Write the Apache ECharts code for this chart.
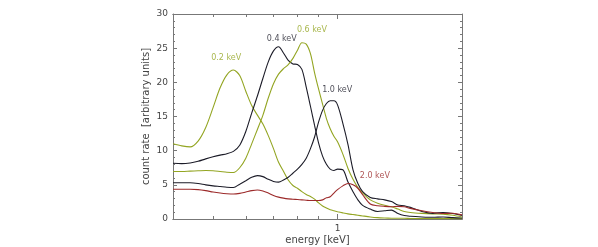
<!DOCTYPE html>
<html><head><meta charset="utf-8">
<script src="https://cdn.jsdelivr.net/npm/echarts@6/dist/echarts.min.js"></script>
<style>html,body{margin:0;padding:0;background:#fff}#c{width:598px;height:247px}</style>
</head><body><div id="c"></div>
<script>
// energy grid [keV]
const energies = [0.40,0.42,0.44,0.46,0.48,0.50,0.52,0.54,0.56,0.58,0.60,0.62,0.64,0.66,0.68,0.70,0.72,0.74,0.76,0.78,0.80,0.82,0.84,0.86,0.88,0.90,0.92,0.94,0.96,0.98,1.00,1.03,1.06,1.09,1.12,1.15,1.20,1.25,1.30,1.35,1.40,1.45,1.50,1.60,1.70,1.80,1.90,2.00];
// count rate for each incident photon energy
const counts02 = [11.0,10.7,10.55,11.4,13.4,16.3,19.2,21.1,21.8,21.0,18.7,16.6,15.2,13.9,12.2,10.3,8.3,7.0,5.7,4.9,4.5,4.0,3.6,3.3,2.9,2.35,1.9,1.6,1.35,1.2,1.07,0.9,0.75,0.65,0.55,0.45,0.3,0.2,0.15,0.12,0.1,0.1,0.08,0.07,0.06,0.05,0.05,0.05];
const counts04 = [8.15,8.1,8.2,8.45,8.8,9.1,9.35,9.55,9.9,10.8,12.8,15.5,18.0,20.6,23.0,24.6,25.2,24.3,23.2,22.7,22.6,21.9,19.3,16.5,13.7,11.1,9.2,8.0,7.3,7.1,7.3,7.2,5.4,4.0,2.8,2.0,1.45,1.1,1.2,1.3,0.8,0.5,0.4,0.3,0.25,0.3,0.2,0.15];
const counts06 = [6.95,6.95,7.0,7.05,7.1,7.05,6.95,6.85,6.8,7.5,8.9,11.0,13.1,15.2,17.7,19.8,21.2,22.0,22.6,23.5,24.7,25.8,25.6,24.2,21.4,19.0,16.8,14.7,13.2,12.1,11.3,9.5,7.4,5.8,4.6,3.8,2.8,2.3,2.0,1.8,1.45,1.1,0.95,0.82,0.75,0.72,0.55,0.3];
const counts10 = [5.3,5.3,5.3,5.2,5.0,4.85,4.75,4.65,4.6,5.1,5.6,6.1,6.35,6.2,5.8,5.5,5.4,5.7,6.1,6.7,7.3,8.0,8.9,10.3,12.0,14.2,15.9,16.9,17.3,17.3,16.7,14.0,10.9,7.2,5.2,4.0,3.15,2.95,2.8,2.55,2.05,1.95,1.7,1.1,0.83,0.95,0.8,0.5];
const counts20 = [4.35,4.35,4.35,4.3,4.15,3.95,3.8,3.7,3.65,3.75,3.95,4.15,4.25,4.1,3.8,3.45,3.2,3.05,2.95,2.9,2.85,2.8,2.75,2.7,2.7,2.7,2.8,3.1,3.25,3.8,4.3,4.85,5.2,5.0,4.5,3.55,2.2,1.95,1.85,1.8,1.85,1.8,1.55,1.2,0.95,0.8,0.85,0.6];
// curve annotations
const labelTexts = ['0.2 keV','0.4 keV','0.6 keV','1.0 keV','2.0 keV'];
const labelEnergies = [0.538,0.733,0.867,0.998,1.231];
const labelCounts = [23.5,26.3,27.7,18.9,6.3];
// axis ticks
const xMinorTicks = [0.5,0.6,0.7,0.8,0.9];
const xMajorTicks = [1];
const xRange = [0.4, 2.0];
const yRange = [0, 30];
const yStep = 5;

// styles
const GREEN = '#93a522', BLACK = '#1c1c28', RED = '#9c2a2a', AXIS = '#777', TXT = '#444';
const seriesColors = [GREEN, BLACK, GREEN, BLACK, RED];
const FONT = 'DejaVu Sans';
const lg = Math.log10;

function xa(pos, ticks, len, showLabel, withName) {
  const o = {
    type: 'value', position: pos, min: lg(xRange[0]), max: lg(xRange[1]),
    splitLine: { show: false },
    axisLine: { show: true, onZero: false, lineStyle: { color: AXIS, width: 1 } },
    axisTick: { show: true, inside: true, length: len, customValues: ticks.map(lg), lineStyle: { color: AXIS } },
    axisLabel: { show: showLabel, color: TXT, fontSize: 9, margin: 5, fontFamily: FONT,
      formatter: v => String(Math.round(Math.pow(10, v) * 10) / 10) }
  };
  if (showLabel) o.axisLabel.customValues = ticks.map(lg);
  if (withName) {
    o.name = 'energy [keV]'; o.nameLocation = 'middle'; o.nameGap = 16;
    o.nameTextStyle = { color: TXT, fontSize: 10, fontFamily: FONT };
  }
  return o;
}
function ya(pos, showLabel) {
  const o = {
    type: 'value', position: pos, min: yRange[0], max: yRange[1], interval: yStep,
    splitLine: { show: false },
    axisLine: { show: true, onZero: false, lineStyle: { color: AXIS, width: 1 } },
    axisTick: { show: true, inside: true, length: 4, lineStyle: { color: AXIS } },
    minorTick: { show: true, splitNumber: 5, length: 2, lineStyle: { color: AXIS } },
    axisLabel: { show: showLabel, color: TXT, fontSize: 9, margin: 5, fontFamily: FONT }
  };
  if (showLabel) {
    o.name = 'count rate  [arbitrary units]'; o.nameLocation = 'middle'; o.nameGap = 22;
    o.nameTextStyle = { color: TXT, fontSize: 10, fontFamily: FONT };
  }
  return o;
}

const allCounts = [counts02, counts04, counts06, counts10, counts20];
const series = allCounts.map((arr, k) => ({
  type: 'line', xAxisIndex: 0, yAxisIndex: 0, showSymbol: false, smooth: 0.3,
  silent: true, lineStyle: { color: seriesColors[k], width: 1.1 },
  data: energies.map((e, i) => [lg(e), arr[i]])
}));
series.push({
  type: 'scatter', xAxisIndex: 0, yAxisIndex: 0, symbolSize: 0, silent: true,
  data: labelTexts.map((t, i) => ({
    name: t, value: [lg(labelEnergies[i]), labelCounts[i]],
    label: { show: true, position: 'inside', formatter: '{b}', color: seriesColors[i], fontSize: 8, fontFamily: FONT }
  }))
});

const chart = echarts.init(document.getElementById('c'), null, { renderer: 'canvas' });
chart.setOption({
  animation: false,
  backgroundColor: '#fff',
  grid: { left: 173, right: 136, top: 14, bottom: 28, outerBoundsMode: 'none', containLabel: false },
  xAxis: [
    xa('bottom', xMinorTicks, 3, false, true),
    xa('bottom', xMajorTicks, 5, true, false),
    xa('top', xMinorTicks, 3, false, false),
    xa('top', xMajorTicks, 5, false, false)
  ],
  yAxis: [ya('left', true), ya('right', false)],
  series: series
});
</script></body></html>
